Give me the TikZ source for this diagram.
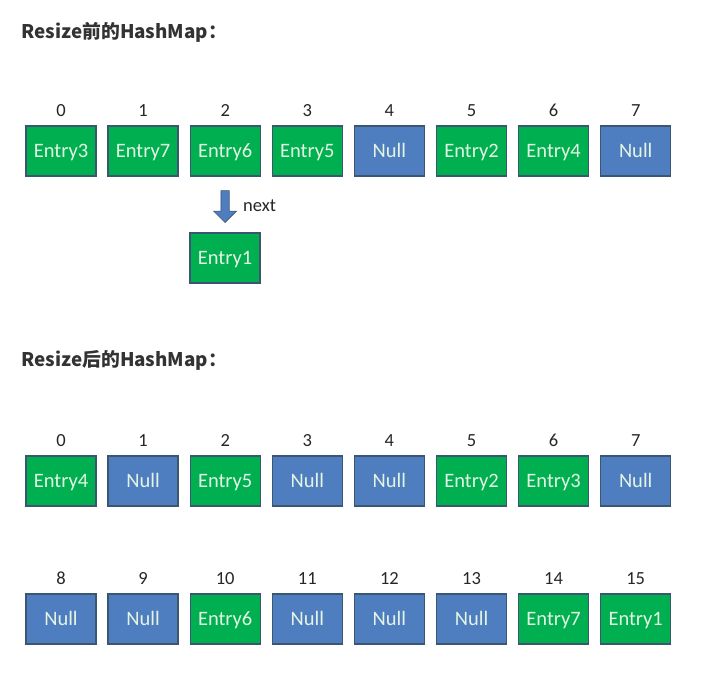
\documentclass[tikz,border=0pt]{standalone}
\usepackage{fontspec}
\setmainfont{Carlito}
\newfontfamily\cjk{Noto Sans CJK SC}
\usetikzlibrary{shapes.arrows,calc}

\definecolor{entrygreen}{HTML}{00B050}
\definecolor{nullblue}{HTML}{4F7EC0}
\definecolor{boxedge}{HTML}{3B5670}
\definecolor{boxtext}{HTML}{E4F4E4}
\definecolor{titlegray}{HTML}{333333}

\tikzset{
  slot/.style={draw=boxedge, line width=1.4pt, minimum width=70pt, minimum height=50pt,
    inner sep=0pt, text height=15pt, text depth=2pt, text=boxtext,
    font=\fontsize{20.5}{20.5}\selectfont},
  entry/.style={slot, fill=entrygreen},
  null/.style={slot, fill=nullblue},
  idx/.style={inner sep=0pt, text height=12pt, text depth=0pt,
    font=\fontsize{18.5}{18.5}\selectfont, text=black!85},
  heading/.style={anchor=west, text=titlegray, font=\cjk\bfseries\fontsize{18.8}{18.8}\selectfont}
}

\begin{document}
\begin{tikzpicture}[x=1pt, y=-1pt]
  \useasboundingbox[fill=white] (0,0) rectangle (703,680);

  % before resize
  \node[heading] (t1) at (18,32) {Resize前的HashMap：};
  \foreach \i/\s/\t in {0/entry/Entry3, 1/entry/Entry7, 2/entry/Entry6, 3/entry/Entry5,
                        4/null/Null, 5/entry/Entry2, 6/entry/Entry4, 7/null/Null} {
    \node[\s] (b\i) at (61+82.1*\i,151) {\t};
    \node[idx] (bi\i) at (61+82.1*\i,110) {\i};
  }
  \node[entry] (e1) at (225,258) {Entry1};
  \node[single arrow, fill=nullblue, draw=boxedge, line width=0.6pt, rotate=-90,
    minimum height=32pt, minimum width=23pt, single arrow head extend=5pt,
    inner sep=2.5pt] (nx) at ($(b2.south)!0.5!(e1.north)$) {};
  \node[idx, anchor=west] (nxl) at (243,205) {next};

  % after resize
  \node[heading] (t2) at (18,360) {Resize后的HashMap：};
  \foreach \i/\s/\t in {0/entry/Entry4, 1/null/Null, 2/entry/Entry5, 3/null/Null,
                        4/null/Null, 5/entry/Entry2, 6/entry/Entry3, 7/null/Null} {
    \node[\s] (c\i) at (61+82.1*\i,481) {\t};
    \node[idx] (ci\i) at (61+82.1*\i,440) {\i};
  }
  \foreach \i/\s/\t in {8/null/Null, 9/null/Null, 10/entry/Entry6, 11/null/Null,
                        12/null/Null, 13/null/Null, 14/entry/Entry7, 15/entry/Entry1} {
    \node[\s] (c\i) at (61+82.1*\i-656.8,619) {\t};
    \node[idx] (ci\i) at (61+82.1*\i-656.8,578) {\i};
  }
\end{tikzpicture}
\end{document}
